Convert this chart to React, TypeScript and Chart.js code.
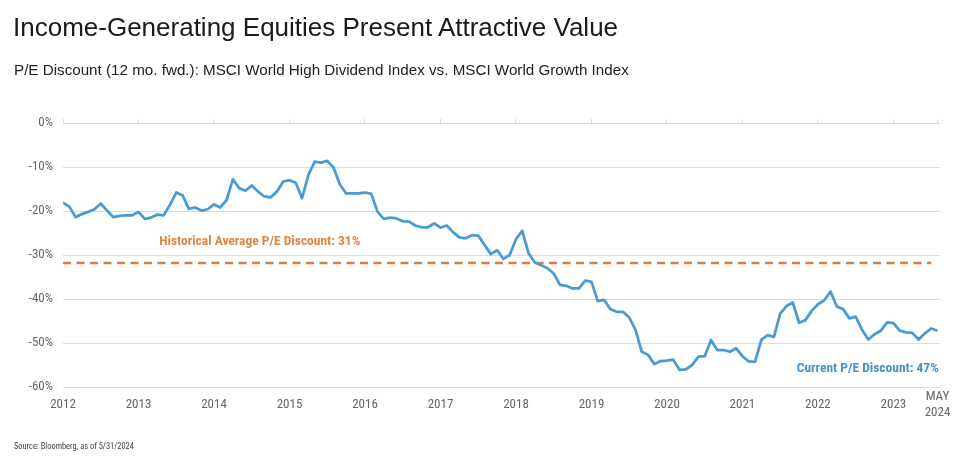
import React, { useEffect, useRef } from "react";
import { Chart, registerables } from "chart.js";

Chart.register(...registerables);

// ---------- data ----------
const yearLabels = ["2012", "2013", "2014", "2015", "2016", "2017", "2018", "2019", "2020", "2021", "2022", "2023"];
const lastLabel = ["MAY", "2024"];

// monthly P/E discount (%), Jan 2012 onward
const discountValues = [
  -18.1, -19.0, -21.4, -20.7, -20.2, -19.6, -18.3, -19.9, -21.4, -21.1,
  -21.0, -21.0, -20.2, -21.8, -21.5, -20.8, -21.0, -18.6, -15.8, -16.4,
  -19.5, -19.2, -19.9, -19.6, -18.5, -19.2, -17.5, -12.8, -14.8, -15.4,
  -14.2, -15.6, -16.7, -16.9, -15.6, -13.3, -13.0, -13.6, -17.1, -11.8,
  -8.8, -9.0, -8.6, -10.1, -13.9, -16.0, -16.0, -16.0, -15.8, -16.1,
  -20.2, -21.8, -21.5, -21.7, -22.3, -22.4, -23.3, -23.7, -23.7, -22.8,
  -23.8, -23.3, -24.8, -26.0, -26.2, -25.5, -25.6, -27.7, -29.8, -28.9,
  -30.9, -30.0, -26.4, -24.5, -29.6, -31.7, -32.3, -33.0, -34.2, -36.8,
  -37.0, -37.6, -37.6, -35.8, -36.1, -40.5, -40.2, -42.3, -42.9, -42.9,
  -44.2, -47.0, -52.0, -52.7, -54.8, -54.1, -54.0, -53.8, -56.1, -56.0,
  -55.0, -53.1, -53.0, -49.3, -51.6, -51.6, -52.0, -51.2, -53.0, -54.2,
  -54.3, -49.3, -48.2, -48.6, -43.3, -41.6, -40.8, -45.4, -44.8, -42.7,
  -41.2, -40.3, -38.3, -41.7, -42.3, -44.4, -44.0, -47.0, -49.2, -48.0,
  -47.2, -45.3, -45.5, -47.2, -47.6, -47.7, -49.2, -47.8, -46.7, -47.2,
];

const historicalAverage = -31.8;
const historicalLabel = "Historical Average P/E Discount: 31%";
const currentLabel = "Current P/E Discount: 47%";
const yMin = -60;
const yMax = 0;
const yStep = 10;

const titleText = "Income-Generating Equities Present Attractive Value";
const subtitleText = "P/E Discount (12 mo. fwd.): MSCI World High Dividend Index vs. MSCI World Growth Index";
const sourceText = "Source: Bloomberg, as of 5/31/2024";

// ---------- style ----------
const BLUE = "#4a9bd1";
const BLUE_TEXT = "#4a90c9";
const ORANGE = "#e07b39";
const ORANGE_TEXT = "#dd8747";
const GRID = "#dcdcdc";
const TICK = "#666666";
const NARROW = '"Liberation Sans Narrow", "Arial Narrow", "Nimbus Sans Narrow", "Roboto Condensed", "DejaVu Sans Condensed", sans-serif';
const SANS = '"Liberation Sans", Arial, Helvetica, sans-serif';

const lastIndex = discountValues.length - 1;
const tickPositions = [...yearLabels.map((_, i) => i * 12), lastIndex];

const annotationPlugin = {
  id: "peAnnotations",
  afterDatasetsDraw(chart: any) {
    const { ctx, scales } = chart;
    const x = scales.x;
    const y = scales.y;
    ctx.save();
    ctx.font = `bold 13.5px ${NARROW}`;
    ctx.textBaseline = "middle";
    ctx.textAlign = "left";
    ctx.fillStyle = ORANGE_TEXT;
    ctx.fillText(historicalLabel, x.getPixelForValue(15.3), y.getPixelForValue(-27));
    ctx.textAlign = "right";
    ctx.fillStyle = BLUE_TEXT;
    ctx.fillText(currentLabel, x.getPixelForValue(lastIndex + 0.2), y.getPixelForValue(-55.9));
    ctx.restore();
  },
};

function PEChart() {
  const ref = useRef<HTMLCanvasElement | null>(null);
  useEffect(() => {
    if (!ref.current) return;
    const setTicks = (scale: any) => {
      scale.ticks = tickPositions.map((v) => ({ value: v }));
    };
    const chart = new Chart(ref.current, {
      type: "line",
      data: {
        datasets: [
          {
            label: "P/E Discount",
            data: discountValues.map((v, i) => ({ x: i, y: v })),
            borderColor: BLUE,
            borderWidth: 2.75,
            pointRadius: 0,
            tension: 0,
            fill: false,
            borderJoinStyle: "round",
            order: 1,
          },
          {
            label: "Historical Average",
            data: [
              { x: 0, y: historicalAverage },
              { x: lastIndex - 1, y: historicalAverage },
            ],
            borderColor: ORANGE,
            borderWidth: 2.5,
            borderDash: [8, 5.5],
            pointRadius: 0,
            fill: false,
            order: 2,
          },
        ],
      },
      options: {
        animation: false,
        responsive: false,
        devicePixelRatio: 1,
        layout: { padding: { left: 0, right: 20, top: 0, bottom: 0 } },
        plugins: {
          legend: { display: false },
          tooltip: { enabled: false },
          title: { display: false },
        },
        scales: {
          x: {
            type: "linear",
            position: "bottom",
            min: 0,
            max: lastIndex + 0.4,
            afterBuildTicks: setTicks,
            afterFit: (scale: any) => {
              scale.height = 77;
            },
            grid: { display: false },
            border: { display: false },
            ticks: {
              autoSkip: false,
              maxRotation: 0,
              minRotation: 0,
              padding: 2,
              crossAlign: "center",
              color: TICK,
              font: { family: NARROW, size: 13 },
              callback: (value: any) => {
                const i = tickPositions.indexOf(value);
                return i < yearLabels.length ? yearLabels[i] : lastLabel;
              },
            },
          },
          x2: {
            type: "linear",
            position: "top",
            min: 0,
            max: lastIndex + 0.4,
            afterBuildTicks: setTicks,
            afterFit: (scale: any) => {
              scale.height = 123;
            },
            grid: { drawOnChartArea: false, drawTicks: true, tickLength: 4, color: GRID },
            border: { display: false },
            ticks: { display: false },
          },
          y: {
            min: yMin,
            max: yMax,
            afterFit: (scale: any) => {
              scale.width = 63;
            },
            grid: { color: GRID, drawTicks: false, lineWidth: 1 },
            border: { display: false },
            ticks: {
              stepSize: yStep,
              padding: 10,
              color: TICK,
              font: { family: NARROW, size: 13 },
              callback: (value: any) => `${value}%`,
            },
          },
        },
      },
      plugins: [annotationPlugin],
    } as any);
    return () => chart.destroy();
  }, []);
  return <canvas ref={ref} width={960} height={464} style={{ position: "absolute", left: 0, top: 0, width: 960, height: 464 }} />;
}

export default function App() {
  return (
    <div style={{ position: "absolute", left: 0, top: 0, width: 960, height: 464, background: "#ffffff", overflow: "hidden" }}>
      <PEChart />
      <div
        style={{
          position: "absolute",
          left: 13,
          top: 14,
          fontFamily: SANS,
          fontSize: 26,
          lineHeight: "26px",
          color: "#1a1a1a",
          whiteSpace: "nowrap",
        }}
      >
        {titleText}
      </div>
      <div
        style={{
          position: "absolute",
          left: 14,
          top: 62,
          fontFamily: SANS,
          fontSize: 15.2,
          lineHeight: "16px",
          color: "#222222",
          whiteSpace: "nowrap",
        }}
      >
        {subtitleText}
      </div>
      <div
        style={{
          position: "absolute",
          left: 14,
          top: 442,
          fontFamily: NARROW,
          fontSize: 8.4,
          lineHeight: "9px",
          color: "#444444",
          whiteSpace: "nowrap",
        }}
      >
        {sourceText}
      </div>
    </div>
  );
}
